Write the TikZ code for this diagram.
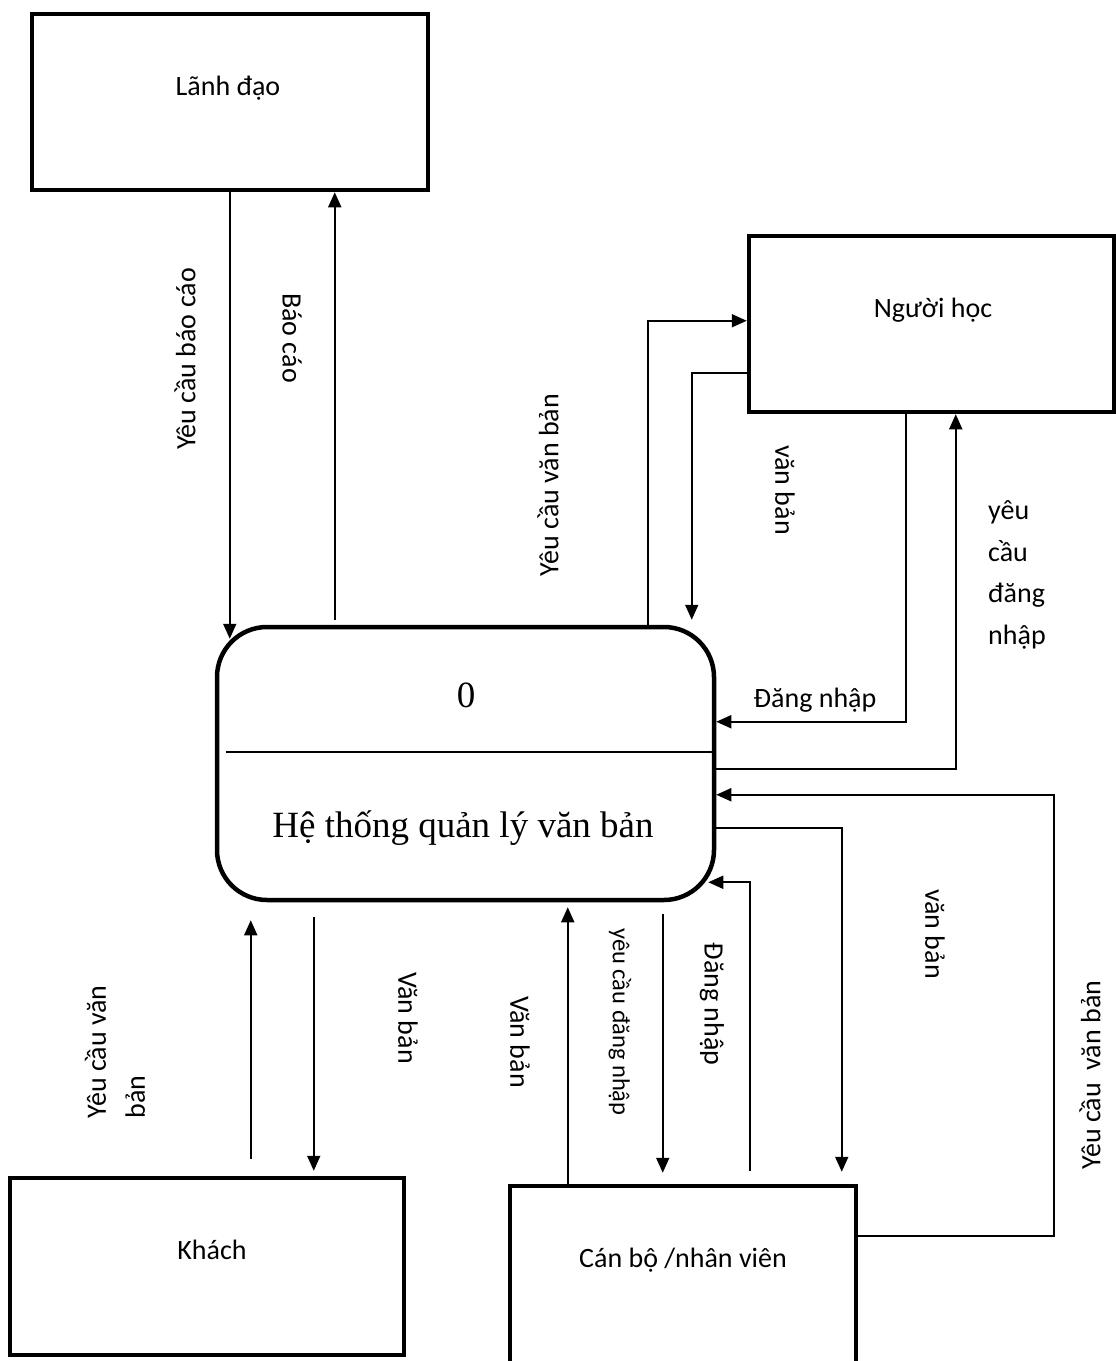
\documentclass[tikz,border=0pt]{standalone}
\usepackage{fontspec}
\setmainfont{Carlito}
\newfontfamily\seriffont{Liberation Serif}
\usetikzlibrary{calc,arrows.meta}
\begin{document}
\begin{tikzpicture}[x=1pt,y=-1pt,
  entity/.style={draw,line width=4.5pt,rectangle,inner sep=0pt},
  proc/.style={draw,line width=4.5pt,rectangle,rounded corners=50pt,inner sep=0pt},
  flow/.style={line width=1.8pt,-{Triangle[length=15pt,width=13pt]}},
  lbl/.style={font=\fontsize{28}{34}\selectfont,inner sep=0pt},
  big/.style={font=\seriffont\fontsize{37}{44}\selectfont,inner sep=0pt}]
\useasboundingbox (0,0) rectangle (1116,1361);
\clip (0,0) rectangle (1116,1361);
\fill[white] (0,0) rectangle (1116,1361);
% entities
\node[entity,minimum width=396pt,minimum height=176pt] (ld) at (230,102) {};
\node[lbl] (ldt) at (228,88) {Lãnh đạo};
\node[entity,minimum width=365pt,minimum height=176pt] (nh) at (931.5,324) {};
\node[lbl] (nht) at (933,310) {Người học};
\node[entity,minimum width=394pt,minimum height=177pt] (kh) at (207,1266.5) {};
\node[lbl] (kht) at (212,1250) {Khách};
\node[entity,minimum width=346pt,minimum height=260pt] (cb) at (683,1316) {};
\node[lbl] (cbt) at (683,1260) {Cán bộ /nhân viên};
% process
\node[proc,minimum width=497pt,minimum height=273pt] (pr) at (465.5,763.5) {};
\draw[line width=1.8pt] ($(pr.north west)+(11,127)$) -- ($(pr.north east)+(-4,127)$);
\node[big] (p0) at (466,695) {0};
\node[big] (pt) at (463,828) {Hệ thống quản lý văn bản};
% Lãnh đạo flows
\draw[flow] ($(ld.south west)+(200,0)$) -- ($(pr.north west)+(15,14)$);
\draw[flow] ($(pr.north west)+(120,-5)$) -- ($(ld.south west)+(305,0)$);
\node[lbl,rotate=90] at (185,359) {Yêu cầu báo cáo};
\node[lbl,rotate=-90] at (292,338) {Báo cáo};
% Người học flows
\draw[flow] ($(pr.north west)+(433,0)$) |- ($(nh.north west)+(0,87)$);
\draw[flow] ($(nh.north west)+(0,139)$) -| ($(pr.north west)+(477,-5)$);
\draw[flow] ($(nh.south west)+(159,0)$) |- ($(pr.north east)+(0,97)$);
\draw[flow] ($(pr.north east)+(0,144)$) -| ($(nh.south west)+(209,0)$);
\node[lbl,rotate=90] at (548,485) {Yêu cầu văn bản};
\node[lbl,rotate=-90] at (785,490) {văn bản};
\node[lbl] at (815,700) {Đăng nhập};
\node[lbl,font=\fontsize{28}{41.5}\selectfont,align=left,anchor=west] at (988,575) {yêu\\cầu\\đăng\\nhập};
% Cán bộ flows
\draw[flow] ($(cb.north east)+(0,52)$) -| ($(pr.north east)+(338,170)$) -- ($(pr.north east)+(0,170)$);
\draw[flow] ($(pr.north east)+(0,203)$) -| ($(cb.north west)+(334,-12)$);
\draw[flow] ($(cb.north west)+(242,-13)$) |- ($(pr.south east)+(-8,-20)$);
\draw[flow] ($(pr.south west)+(448,12)$) -- ($(cb.north west)+(155,-11)$);
\draw[flow] ($(cb.north west)+(60,0)$) -- ($(pr.south west)+(353,5)$);
\node[lbl,rotate=90] at (1090,1075) {Yêu cầu\ \ văn bản};
\node[lbl,rotate=-90] at (935,934) {văn bản};
\node[lbl,rotate=-90] at (712,1004) {Đăng nhập};
\node[lbl,rotate=-90,font=\fontsize{24.5}{30}\selectfont] at (620,1022) {yêu cầu đăng nhập};
\node[lbl,rotate=-90] at (520,1042) {Văn bản};
% Khách flows
\draw[flow] ($(kh.north west)+(243,-17)$) -- ($(pr.south west)+(36,18)$);
\draw[flow] ($(pr.south west)+(99,15)$) -- ($(kh.north west)+(306,-5)$);
\node[lbl,rotate=90,align=left,font=\fontsize{28}{39}\selectfont] at (115,1052) {Yêu cầu văn\\bản};
\node[lbl,rotate=-90] at (408,1018) {Văn bản};
\end{tikzpicture}
\end{document}
